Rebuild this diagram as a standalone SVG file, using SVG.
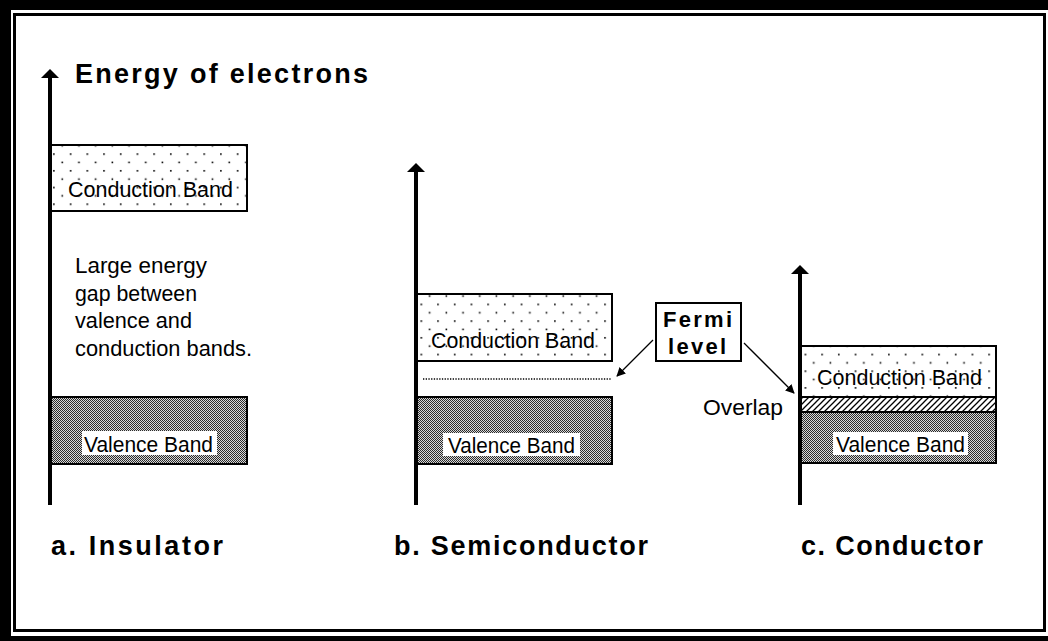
<svg xmlns="http://www.w3.org/2000/svg" width="1048" height="641" viewBox="0 0 1048 641">
<style>
.t{font-family:"Liberation Sans",Arial,sans-serif;font-size:22px;fill:#000}
.b{font-family:"Liberation Sans",Arial,sans-serif;font-weight:bold;font-size:27px;fill:#000}
.fb{font-family:"Liberation Sans",Arial,sans-serif;font-weight:bold;font-size:22px;fill:#000}
.axis{stroke:#000;stroke-width:4;fill:none}
.cb{fill:url(#dots);stroke:#000;stroke-width:2}
.vb{fill:url(#dither);stroke:#000;stroke-width:2}
.lbl{fill:#fff}
.conn{stroke:#000;stroke-width:1.3;fill:none}
</style>
<defs>
<pattern id="dots" patternUnits="userSpaceOnUse" x="0" y="0" width="16.7" height="16.7">
<rect width="16.7" height="16.7" fill="#fff"/>
<rect x="3" y="3" width="1.6" height="1.6" fill="#000"/>
<rect x="11.35" y="11.35" width="1.6" height="1.6" fill="#000"/>
</pattern>
<pattern id="dither" patternUnits="userSpaceOnUse" x="0" y="0" width="2" height="2">
<rect width="2" height="2" fill="#d8d8d8" shape-rendering="crispEdges"/>
<rect x="0" y="0" width="1" height="1" fill="#2a2a2a" shape-rendering="crispEdges"/>
<rect x="1" y="1" width="1" height="1" fill="#2a2a2a" shape-rendering="crispEdges"/>
</pattern>
<pattern id="hatch" patternUnits="userSpaceOnUse" x="0" y="0" width="6" height="6">
<rect width="6" height="6" fill="#fff"/>
<path d="M0,6 L6,0 M-1,1 L1,-1 M5,7 L7,5" stroke="#000" stroke-width="1.3"/>
</pattern>
<marker id="ah" viewBox="0 0 10 10" refX="9" refY="5" markerWidth="9" markerHeight="9" markerUnits="userSpaceOnUse" orient="auto">
<path d="M0,0 L10,5 L0,10 Z" fill="#000"/>
</marker>
</defs>
<rect x="0" y="0" width="1048" height="641" fill="#fff"/>
<g id="frame">
<rect x="0" y="0" width="1048" height="10" fill="#000"/>
<rect x="0" y="0" width="11" height="641" fill="#000"/>
<rect x="0" y="636" width="1048" height="5" fill="#000"/>
<rect x="14.5" y="14.5" width="1030" height="616" fill="none" stroke="#000" stroke-width="3"/>
</g>
<g id="title">
<text class="b" x="75" y="83" textLength="293" lengthAdjust="spacing">Energy of electrons</text>
</g>
<g id="insulator-axis">
<line class="axis" x1="50" y1="76" x2="50" y2="505"/>
<path d="M50,69 L59,78 L41,78 Z" fill="#000"/>
</g>
<g id="semiconductor-axis">
<line class="axis" x1="416" y1="170" x2="416" y2="505"/>
<path d="M416,163 L425,172 L407,172 Z" fill="#000"/>
</g>
<g id="conductor-axis">
<line class="axis" x1="800" y1="272" x2="800" y2="505"/>
<path d="M800,265 L809,274 L791,274 Z" fill="#000"/>
</g>
<g id="insulator-conduction">
<rect class="cb" x="51" y="145" width="196" height="66"/>
<text class="t" x="68" y="197" textLength="165" lengthAdjust="spacingAndGlyphs">Conduction Band</text>
</g>
<g id="insulator-gap-note">
<text class="t" x="75" y="273" textLength="132" lengthAdjust="spacingAndGlyphs">Large energy</text>
<text class="t" x="75" y="301" textLength="122" lengthAdjust="spacingAndGlyphs">gap between</text>
<text class="t" x="75" y="328" textLength="117" lengthAdjust="spacingAndGlyphs">valence and</text>
<text class="t" x="75" y="356" textLength="177" lengthAdjust="spacingAndGlyphs">conduction bands.</text>
</g>
<g id="insulator-valence">
<rect class="vb" x="51" y="397" width="196" height="67"/>
<rect class="lbl" x="82" y="431" width="135" height="24"/>
<text class="t" x="84" y="452" textLength="129" lengthAdjust="spacingAndGlyphs">Valence Band</text>
</g>
<g id="semiconductor-conduction">
<rect class="cb" x="417" y="294" width="195" height="67"/>
<text class="t" x="431" y="348" textLength="164" lengthAdjust="spacingAndGlyphs">Conduction Band</text>
</g>
<g id="fermi-level-line">
<line x1="423" y1="379" x2="611" y2="379" stroke="#000" stroke-width="1.4" stroke-dasharray="1.3 1.4"/>
</g>
<g id="semiconductor-valence">
<rect class="vb" x="417" y="397" width="195" height="67"/>
<rect class="lbl" x="443" y="433" width="137" height="23"/>
<text class="t" x="448" y="453" textLength="127" lengthAdjust="spacingAndGlyphs">Valence Band</text>
</g>
<g id="fermi-label">
<rect x="656" y="303" width="85" height="58" fill="#fff" stroke="#000" stroke-width="2"/>
<text class="fb" x="663" y="327" textLength="69" lengthAdjust="spacing">Fermi</text>
<text class="fb" x="668" y="354" textLength="58" lengthAdjust="spacing">level</text>
</g>
<g id="conductor-bands">
<rect class="cb" x="801" y="346" width="195" height="51"/>
<text class="t" x="817" y="385" textLength="165" lengthAdjust="spacingAndGlyphs">Conduction Band</text>
<rect x="801" y="397" width="195" height="15" fill="url(#hatch)" stroke="#000" stroke-width="2"/>
<rect class="vb" x="801" y="412" width="195" height="51"/>
<rect class="lbl" x="833" y="432" width="135" height="23"/>
<text class="t" x="836" y="452" textLength="129" lengthAdjust="spacingAndGlyphs">Valence Band</text>
</g>
<g id="overlap-label">
<text class="t" x="703" y="415" textLength="80" lengthAdjust="spacingAndGlyphs">Overlap</text>
</g>
<g id="connectors">
<line class="conn" x1="653" y1="340" x2="617" y2="376" marker-end="url(#ah)"/>
<line class="conn" x1="744" y1="343" x2="794" y2="393" marker-end="url(#ah)"/>
</g>
<g id="captions">
<text class="b" x="51" y="555" textLength="172" lengthAdjust="spacing">a. Insulator</text>
<text class="b" x="394" y="555" textLength="254" lengthAdjust="spacing">b. Semiconductor</text>
<text class="b" x="801" y="555" textLength="182" lengthAdjust="spacing">c. Conductor</text>
</g>
</svg>
